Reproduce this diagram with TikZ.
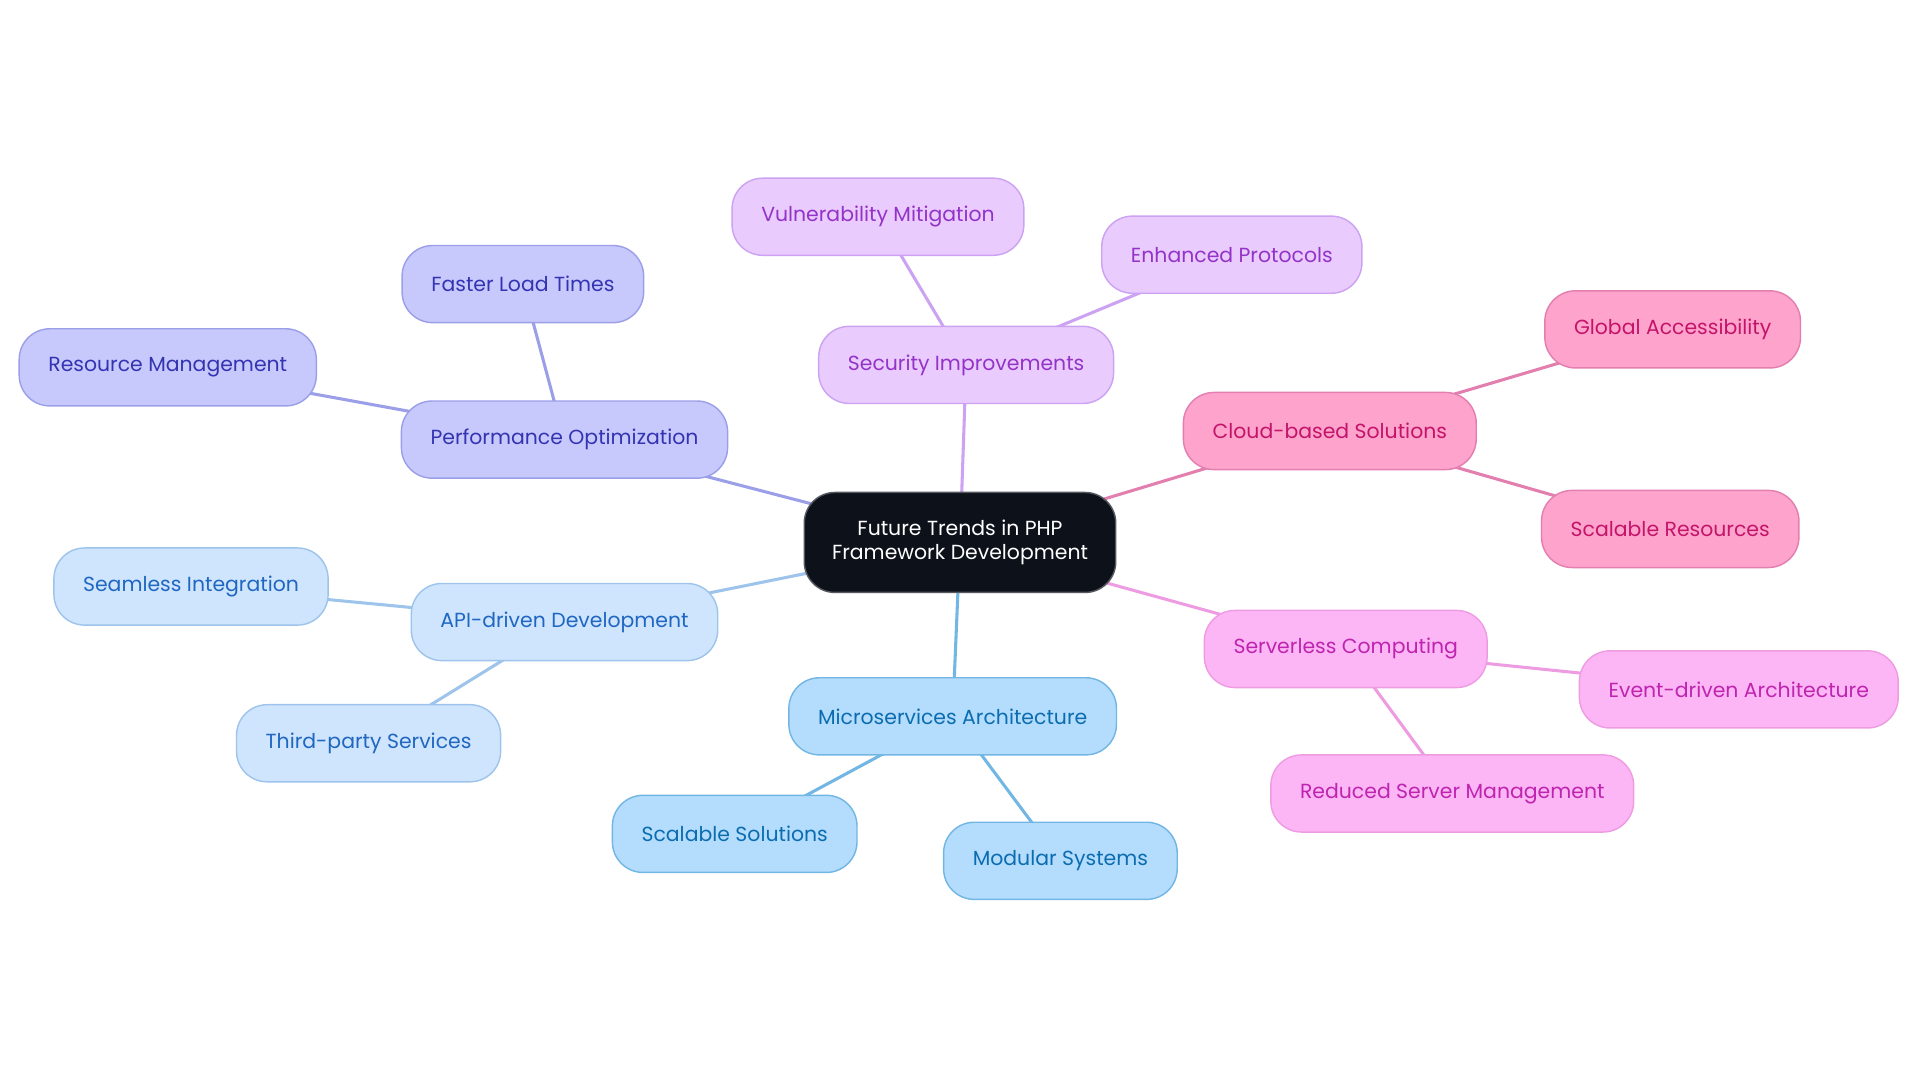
\documentclass[tikz,border=0pt]{standalone}
\usepackage{fontspec}
\setmainfont{Poppins}
\usetikzlibrary{positioning, backgrounds}

\definecolor{perfFill}{HTML}{C7C9FC}
\definecolor{perfLine}{HTML}{9B9FE8}
\definecolor{perfText}{HTML}{3434B2}
\definecolor{secFill}{HTML}{EACBFD}
\definecolor{secLine}{HTML}{CCA2F2}
\definecolor{secText}{HTML}{9333C8}
\definecolor{cloudFill}{HTML}{FDA3CC}
\definecolor{cloudLine}{HTML}{E37FAF}
\definecolor{cloudText}{HTML}{C4146A}
\definecolor{srvFill}{HTML}{FDB6F5}
\definecolor{srvLine}{HTML}{EE9CE2}
\definecolor{srvText}{HTML}{BE24AF}
\definecolor{microFill}{HTML}{B4DCFD}
\definecolor{microLine}{HTML}{72B6E4}
\definecolor{microText}{HTML}{0B6DB0}
\definecolor{apiFill}{HTML}{CFE4FD}
\definecolor{apiLine}{HTML}{9EC4EC}
\definecolor{apiText}{HTML}{1F67C1}
\definecolor{rootFill}{HTML}{0D121A}

\tikzset{
    topic/.style={draw, rounded corners=15pt, line width=0.7pt,
        minimum height=37.8pt, inner xsep=14.3pt,
        font=\fontsize{10}{12}\selectfont},
    perf/.style={topic, fill=perfFill, draw=perfLine, text=perfText},
    sec/.style={topic, fill=secFill, draw=secLine, text=secText},
    cloud/.style={topic, fill=cloudFill, draw=cloudLine, text=cloudText},
    srv/.style={topic, fill=srvFill, draw=srvLine, text=srvText},
    micro/.style={topic, fill=microFill, draw=microLine, text=microText},
    api/.style={topic, fill=apiFill, draw=apiLine, text=apiText},
    link/.style={line width=1.5pt}
}

\begin{document}
\begin{tikzpicture}[x=0.6pt, y=-0.6pt]
    \useasboundingbox (0, 0) rectangle (1568, 884);

    % Root
    \node[topic, fill=rootFill, draw=rootFill!70!white, text=white, align=center,
          minimum height=49pt, inner xsep=13.6pt] (root) at (784, 443)
        {Future Trends in PHP\\Framework Development};

    % Main branches
    \node[perf] (perf) at (461, 359) {Performance Optimization};
    \node[sec] (sec) at (789, 298) {Security Improvements};
    \node[cloud] (cloud) at (1086, 352) {Cloud-based Solutions};
    \node[srv] (srv) at (1099, 530) {Serverless Computing};
    \node[micro] (micro) at (778, 585) {Microservices Architecture};
    \node[api] (api) at (461, 508) {API-driven Development};

    % Leaves
    \node[perf] (load) at (427, 232) {Faster Load Times};
    \node[perf] (res) at (137, 300) {Resource Management};
    \node[sec] (vuln) at (717, 177) {Vulnerability Mitigation};
    \node[sec] (proto) at (1006, 208) {Enhanced Protocols};
    \node[cloud] (global) at (1366, 269) {Global Accessibility};
    \node[cloud] (scalres) at (1364, 432) {Scalable Resources};
    \node[srv] (event) at (1420, 563) {Event-driven Architecture};
    \node[srv] (reduced) at (1186, 648) {Reduced Server Management};
    \node[micro] (scalsol) at (600, 681) {Scalable Solutions};
    \node[micro] (modular) at (866, 703) {Modular Systems};
    \node[api] (seam) at (156, 479) {Seamless Integration};
    \node[api] (third) at (301, 607) {Third-party Services};

    % Connections (behind the boxes, centre to centre)
    \begin{scope}[on background layer]
        \draw[link, perfLine] (root.center) -- (perf.center);
        \draw[link, perfLine] (perf.center) -- (load.center);
        \draw[link, perfLine] (perf.center) -- (res.center);

        \draw[link, secLine] (root.center) -- (sec.center);
        \draw[link, secLine] (sec.center) -- (vuln.center);
        \draw[link, secLine] (sec.center) -- (proto.center);

        \draw[link, cloudLine] (root.center) -- (cloud.center);
        \draw[link, cloudLine] (cloud.center) -- (global.center);
        \draw[link, cloudLine] (cloud.center) -- (scalres.center);

        \draw[link, srvLine] (root.center) -- (srv.center);
        \draw[link, srvLine] (srv.center) -- (event.center);
        \draw[link, srvLine] (srv.center) -- (reduced.center);

        \draw[link, microLine] (root.center) -- (micro.center);
        \draw[link, microLine] (micro.center) -- (scalsol.center);
        \draw[link, microLine] (micro.center) -- (modular.center);

        \draw[link, apiLine] (root.center) -- (api.center);
        \draw[link, apiLine] (api.center) -- (seam.center);
        \draw[link, apiLine] (api.center) -- (third.center);
    \end{scope}

\end{tikzpicture}
\end{document}
